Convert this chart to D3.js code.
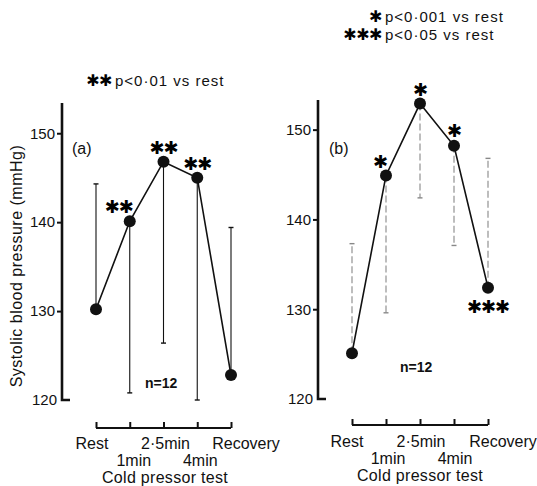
<!DOCTYPE html>
<html><head><meta charset="utf-8">
<script src="https://cdn.jsdelivr.net/npm/d3@7"></script>
<style>
body{margin:0;background:#fff;}
text{font-family:"Liberation Sans",Arial,sans-serif;fill:#111;}
.star{font-family:"DejaVu Sans",sans-serif;fill:#000;}
</style></head>
<body><svg id="c" width="537" height="486"></svg>
<script>
// ---- data ----
const categories = ["Rest", "1min", "2·5min", "4min", "Recovery"];
const yTicks = [120, 130, 140, 150];
const meanA = [130.2, 140.1, 146.8, 145.0, 122.8];
const barEndA = [144.3, 120.8, 126.4, 120.0, 139.4];
const starsA = ["", "**", "**", "**", ""];
const meanB = [125.1, 144.9, 152.9, 148.2, 132.4];
const barEndB = [137.3, 129.6, 142.4, 137.1, 146.8];
const starsB = ["", "*", "*", "*", "***"];
const legendA = [["**", "p<0·01 vs rest"]];
const legendB = [["*", "p<0·001 vs rest"], ["***", "p<0·05 vs rest"]];
const nLabel = "n=12";
const xTitle = "Cold pressor test";
const yTitle = "Systolic blood pressure (mmHg)";

const svg = d3.select("#c");
const starChar = s => s.replace(/\*/g, "\u2731");

function panel(cfg) {
  const g = svg.append("g");
  const y = d3.scaleLinear().domain([120, cfg.yTop]).range(cfg.yRange);
  const x = d3.scalePoint().domain(categories).range(cfg.xRange);
  // y axis
  const ya = d3.axisLeft(y).tickValues(yTicks.slice(1)).tickSize(5).tickPadding(2).tickFormat(d3.format("d"));
  const gy = g.append("g").attr("transform", `translate(${cfg.axisX},0)`).call(ya);
  gy.select(".domain").attr("d", `M0,${y(cfg.yTop)}V${y(120)}H8`).attr("stroke", "#111").attr("stroke-width", 2.6).attr("fill", "none");
  gy.selectAll(".tick line").attr("stroke", "#111").attr("stroke-width", 2);
  gy.selectAll(".tick text").style("font-size", "15px").attr("fill", "#111");
  gy.append("text").attr("x", -5).attr("y", y(120)).attr("dy", "0.35em").attr("text-anchor", "end")
    .style("font-size", "15px").attr("fill", "#111").text("120");
  // x axis
  const xa = d3.axisTop(x).tickSize(6).tickFormat("");
  const gx = g.append("g").attr("transform", `translate(0,${cfg.xAxisY})`).call(xa);
  gx.select(".domain").attr("d", `M${cfg.xRange[0]},0H${cfg.xRange[1]}`).attr("stroke", "#111").attr("stroke-width", 2.2);
  gx.selectAll(".tick line").attr("stroke", "#111").attr("stroke-width", 2);
  gx.selectAll(".tick text").remove();
  // category labels
  categories.forEach((c, i) => {
    g.append("text").attr("x", x(c) + cfg.labelDx[i]).attr("y", cfg.xAxisY + (i % 2 === 0 ? cfg.row1 : cfg.row2))
      .attr("text-anchor", "middle").style("font-size", "16px").text(c);
  });
  g.append("text").attr("x", cfg.titleX).attr("y", cfg.xAxisY + cfg.row3).attr("text-anchor", "middle")
    .style("font-size", "16px").style("letter-spacing", "0.3px").text(xTitle);
  // error bars
  cfg.mean.forEach((m, i) => {
    const cx = x(categories[i]);
    g.append("line").attr("x1", cx).attr("x2", cx).attr("y1", y(m)).attr("y2", y(cfg.barEnd[i]))
      .attr("stroke", cfg.barColor).attr("stroke-width", 1.1).attr("stroke-dasharray", cfg.barDash);
    g.append("line").attr("x1", cx - 2.5).attr("x2", cx + 2.5).attr("y1", y(cfg.barEnd[i])).attr("y2", y(cfg.barEnd[i]))
      .attr("stroke", cfg.barColor).attr("stroke-width", 1.4);
  });
  // line + points
  const line = d3.line().x((d, i) => x(categories[i])).y(d => y(d));
  g.append("path").datum(cfg.mean).attr("d", line).attr("fill", "none").attr("stroke", "#111").attr("stroke-width", 1.6);
  g.selectAll("circle.pt").data(cfg.mean).join("circle").attr("class", "pt")
    .attr("cx", (d, i) => x(categories[i])).attr("cy", d => y(d)).attr("r", 6).attr("fill", "#111");
  // stars
  cfg.stars.forEach((s, i) => {
    if (!s) return;
    const m = cfg.mean[i];
    g.append("text").attr("class", "star").attr("x", x(categories[i]) + cfg.starDx[i])
      .attr("y", y(m) + cfg.starDy[i]).attr("text-anchor", "middle").attr("dy", "0.38em")
      .style("font-size", "18px").style("letter-spacing", "-1px").text(starChar(s));
  });
  // panel label & n
  g.append("text").attr("x", cfg.tagX).attr("y", cfg.tagY).style("font-size", "16px").text(cfg.tag);
  g.append("text").attr("x", cfg.nX).attr("y", cfg.nY).style("font-size", "14px").style("font-weight", "bold").text(nLabel);
  // legend: one text per line, star tspan + label tspan, right edge of stars at legX
  cfg.legend.forEach((l, k) => {
    const ly = cfg.legY + k * 18;
    const t = g.append("text").attr("y", ly).style("font-size", "15px");
    const st = t.append("tspan").attr("class", "star").style("font-size", "16px").style("letter-spacing", "-0.5px").text(starChar(l[0]));
    t.append("tspan").attr("dx", 3).style("letter-spacing", "1px").text(l[1]);
    const w = st.node().getComputedTextLength();
    t.attr("x", cfg.legX - 3 - w);
  });
}

panel({
  mean: meanA, barEnd: barEndA, stars: starsA, legend: legendA, tag: "(a)",
  yTop: 153.4, yRange: [400, 103], xRange: [96, 231], axisX: 62, xAxisY: 428,
  labelDx: [-4, 4, 2, 3, 15], row1: 21, row2: 38, row3: 55, titleX: 165,
  barColor: "#111", barDash: null,
  starDx: [0, -11, 0, 0, 0], starDy: [0, -15, -15, -15, 0],
  tagX: 72, tagY: 154, nX: 145, nY: 388, legX: 115, legY: 86
});
panel({
  mean: meanB, barEnd: barEndB, stars: starsB, legend: legendB, tag: "(b)",
  yTop: 153.3, yRange: [399, 100], xRange: [352, 488], axisX: 318, xAxisY: 425,
  labelDx: [-5, 2, 1, 1, 15], row1: 22, row2: 39, row3: 56, titleX: 420,
  barColor: "#888", barDash: "7,3",
  starDx: [0, -6, 0, 0, 0], starDy: [0, -14, -14, -16, 18],
  tagX: 329, tagY: 154, nX: 400, nY: 372, legX: 385, legY: 22
});

// y title
svg.append("text").attr("transform", "translate(22,266) rotate(-90)").attr("text-anchor", "middle")
  .style("font-size", "16px").style("letter-spacing", "0.5px").text(yTitle);
</script></body></html>
